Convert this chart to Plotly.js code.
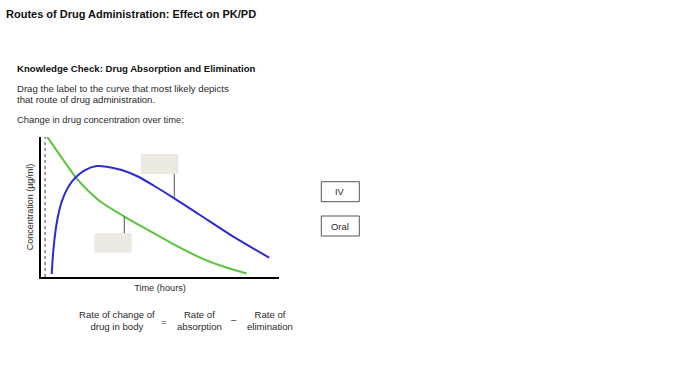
<!DOCTYPE html>
<html><head><meta charset="utf-8">
<script src="https://cdn.plot.ly/plotly-3.0.1.min.js"></script>
<style>html,body{margin:0;padding:0;background:#fff}#chart{width:700px;height:375px}</style>
</head><body><div id="chart"></div>
<script>
// Green curve (IV: starts high, decays)
const ivTime = [0.24, 0.59, 1.01, 1.46, 1.97, 2.55, 3.50, 4.23, 4.75, 5.42, 6.68, 7.66, 8.64];
const ivConc = [10.07, 9.21, 8.18, 7.12, 6.18, 5.32, 4.32, 3.61, 3.11, 2.48, 1.39, 0.75, 0.25];
// Blue curve (Oral: absorption then elimination)
const oralTime = [0.45, 0.52, 0.66, 0.87, 1.15, 1.46, 1.85, 2.34, 2.76, 3.39, 4.09, 4.76, 5.60, 6.68, 8.08, 9.59];
const oralConc = [0.21, 1.93, 3.86, 5.38, 6.45, 7.12, 7.64, 7.93, 7.88, 7.64, 7.16, 6.50, 5.62, 4.43, 2.88, 1.38];
const labelChoices = ["IV", "Oral"];

const W = 700, H = 375;
const px = x => x / W;
const py = y => 1 - y / H;
const font = "Liberation Sans, Arial, sans-serif";
const ink = "#2a2a2a";

const traces = [
  {x: ivTime, y: ivConc, type: "scatter", mode: "lines", name: "IV",
   line: {color: "#5ac43c", width: 2, shape: "spline", smoothing: 0.6}, hoverinfo: "skip"},
  {x: oralTime, y: oralConc, type: "scatter", mode: "lines", name: "Oral",
   line: {color: "#2b2bd0", width: 2, shape: "spline", smoothing: 0.8}, hoverinfo: "skip"}
];

function txt(text, x, y, size, opts) {
  return Object.assign({text: text, xref: "paper", yref: "paper", x: px(x), y: py(y),
    showarrow: false, xanchor: "left", yanchor: "middle",
    font: {family: font, size: size, color: ink}}, opts || {});
}

const annotations = [
  txt("<b>Routes of Drug Administration: Effect on PK/PD</b>", 4, 14, 11, {font: {family: font, size: 11, color: "#111"}}),
  txt("<b>Knowledge Check: Drug Absorption and Elimination</b>", 15, 68, 9.6, {font: {family: font, size: 9.6, color: "#111"}}),
  txt("Drag the label to the curve that most likely depicts", 15, 88, 9.6),
  txt("that route of drug administration.", 15, 99, 9.6),
  txt("Change in drug concentration over time:", 15, 119, 9.4),
  txt("Rate of change of<br>drug in body", 117, 320, 9.6, {xanchor: "center"}),
  txt("=", 164, 321, 9.6, {xanchor: "center"}),
  txt("Rate of<br>absorption", 199, 320, 9.6, {xanchor: "center"}),
  txt("–", 234, 319, 9.6, {xanchor: "center"}),
  txt("Rate of<br>elimination", 270, 320, 9.6, {xanchor: "center"}),
  txt(labelChoices[0], 340.3, 191.7, 9.4, {xanchor: "center"}),
  txt(labelChoices[1], 340.3, 226, 9.4, {xanchor: "center"})
];

const boxFill = "#ebe9e1";
const shapes = [
  // dotted reference line near the y axis
  {type: "line", xref: "x", yref: "y", x0: 0.17, x1: 0.17, y0: 0, y1: 10,
   line: {color: "#444", width: 1, dash: "dot"}},
  // drop-target boxes and connectors
  {type: "rect", xref: "x", yref: "y", x0: 2.24, x1: 3.81, y0: 1.74, y1: 3.12,
   fillcolor: boxFill, line: {width: 0}},
  {type: "line", xref: "x", yref: "y", x0: 3.50, x1: 3.50, y0: 3.12, y1: 4.32,
   line: {color: "#555", width: 1}},
  {type: "rect", xref: "x", yref: "y", x0: 4.20, x1: 5.77, y0: 7.36, y1: 8.79,
   fillcolor: boxFill, line: {width: 0}},
  {type: "line", xref: "x", yref: "y", x0: 5.60, x1: 5.60, y0: 5.62, y1: 7.36,
   line: {color: "#555", width: 1}},
  // label choice boxes
  {type: "rect", xref: "paper", yref: "paper", x0: px(321.3), x1: px(359.3), y0: py(201.7), y1: py(181.7),
   fillcolor: "#fff", line: {color: "#555", width: 1}},
  {type: "rect", xref: "paper", yref: "paper", x0: px(321.3), x1: px(359.3), y0: py(236), y1: py(216),
   fillcolor: "#fff", line: {color: "#555", width: 1}}
];

const layout = {
  width: W, height: H,
  margin: {l: 0, r: 0, t: 0, b: 0},
  paper_bgcolor: "#fff", plot_bgcolor: "#fff",
  showlegend: false,
  font: {family: font, size: 9, color: ink},
  xaxis: {domain: [41 / W, 279 / W], range: [0, 10], showgrid: false, zeroline: false,
    showticklabels: false, ticks: "", showline: true, linecolor: "#000", linewidth: 2,
    title: {text: "Time (hours)", font: {family: font, size: 9.2, color: ink}, standoff: 7}},
  yaxis: {domain: [(H - 277) / H, (H - 137) / H], range: [0, 10], showgrid: false, zeroline: false,
    showticklabels: false, ticks: "", showline: true, linecolor: "#000", linewidth: 2,
    title: {text: "Concentration (µg/ml)", font: {family: font, size: 9, color: ink}, standoff: 4}},
  annotations: annotations,
  shapes: shapes
};

Plotly.newPlot("chart", traces, layout, {displayModeBar: false, staticPlot: true});
</script></body></html>
